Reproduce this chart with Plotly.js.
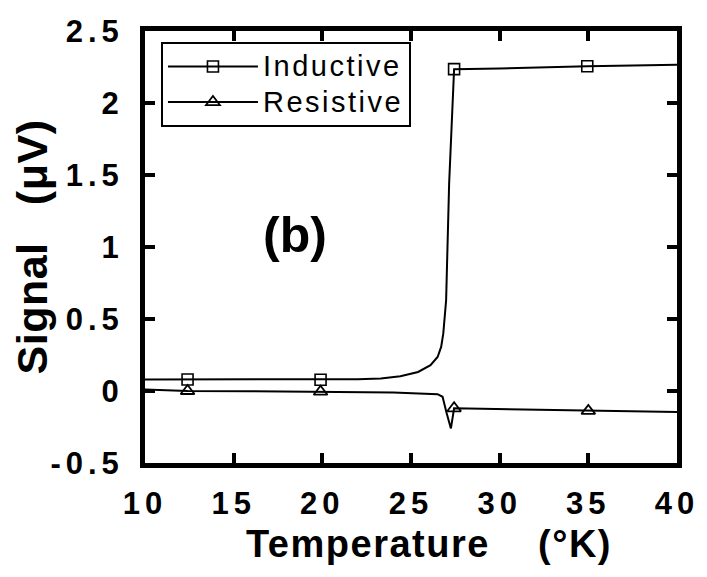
<!DOCTYPE html>
<html>
<head>
<meta charset="utf-8">
<script src="https://cdn.plot.ly/plotly-3.0.1.min.js"></script>
<style>
  html, body { margin: 0; padding: 0; background: #fff; }
  #chart { width: 707px; height: 577px; }
  .xtick text, .ytick text { letter-spacing: 5px; }
  .legendtext { letter-spacing: 2.5px; font-size: 29px !important; }
  .g-xtitle text { letter-spacing: 1.5px; }
  .g-ytitle text { letter-spacing: 0.5px; }
  .g-xtitle { transform: translateX(18px); }
  .g-ytitle { transform: translateX(21px); }
</style>
</head>
<body>
<div id="chart"></div>
<script>
// Inductive signal curve (temperature in K, signal in microvolts)
const indT = [10, 12.4, 16, 19.9, 22, 23.3, 24.4, 25.4, 26.1, 26.5, 26.7, 26.82, 26.91, 26.98, 27.15, 27.43, 30, 32.5, 34.94, 37.5, 40];
const indV = [0.08, 0.08, 0.08, 0.078, 0.082, 0.087, 0.103, 0.132, 0.179, 0.236, 0.306, 0.398, 0.514, 0.629, 1.44, 2.235, 2.24, 2.25, 2.255, 2.26, 2.265];
// Inductive marker points
const indMarkT = [12.4, 19.9, 27.43, 34.94];
const indMarkV = [0.08, 0.078, 2.235, 2.255];

// Resistive signal curve
const resT = [10, 12.4, 16, 19.9, 24, 26.5, 26.78, 27.0, 27.25, 27.43, 30, 32.5, 35, 37.5, 40];
const resV = [0.01, 0.0, -0.002, -0.005, -0.01, -0.022, -0.04, -0.15, -0.26, -0.12, -0.125, -0.13, -0.138, -0.14, -0.145];
// Resistive marker points
const resMarkT = [12.4, 19.9, 27.43, 35];
const resMarkV = [0.0, -0.005, -0.12, -0.138];

// Tick labels
const xTickVals = [10, 15, 20, 25, 30, 35, 40];
const xTickText = ['10', '15', '20', '25', '30', '35', '40'];
const yTickVals = [-0.5, 0, 0.5, 1, 1.5, 2, 2.5];
const yTickText = ['-0.5', '0', '0.5', '1', '1.5', '2', '2.5'];

const seriesNames = ['Inductive', 'Resistive'];
const panelLabel = '(b)';

const lineStyle = {color: '#000', width: 2};
const squareMarker = {color: '#000', size: 11, symbol: 'square-open', line: {color: '#000', width: 1.6}};
const triMarker = {color: '#000', size: 12, symbol: 'triangle-up-open', line: {color: '#000', width: 1.8}};

const traces = [
  {x: indT, y: indV, mode: 'lines', line: lineStyle, showlegend: false, hoverinfo: 'skip'},
  {x: indMarkT, y: indMarkV, mode: 'markers', showlegend: false, marker: squareMarker},
  {x: resT, y: resV, mode: 'lines', line: lineStyle, showlegend: false, hoverinfo: 'skip'},
  {x: resMarkT, y: resMarkV, mode: 'markers', showlegend: false, marker: triMarker},
  // legend entries
  {x: [null], y: [null], mode: 'lines+markers', name: seriesNames[0], line: lineStyle, marker: squareMarker},
  {x: [null], y: [null], mode: 'lines+markers', name: seriesNames[1], line: lineStyle, marker: triMarker}
];

const FAMILY = 'Liberation Sans, Arial, sans-serif';
const tickFont = {family: FAMILY, size: 31, color: '#000', weight: 700};

const layout = {
  width: 707, height: 577,
  margin: {l: 145, r: 30, t: 31, b: 114, pad: 0},
  paper_bgcolor: '#fff', plot_bgcolor: '#fff',
  showlegend: true,
  legend: {
    x: 0.03, y: 0.975, xanchor: 'left', yanchor: 'top',
    bgcolor: '#fff', bordercolor: '#000', borderwidth: 2,
    font: {family: FAMILY, size: 25, color: '#000'},
    itemwidth: 90, tracegroupgap: 0
  },
  xaxis: {
    range: [10, 40], tickmode: 'array', tickvals: xTickVals, ticktext: xTickText,
    showgrid: false, zeroline: false,
    showline: true, linecolor: '#000', linewidth: 5, mirror: 'ticks',
    ticks: 'inside', ticklen: 10, tickwidth: 4, tickcolor: '#000',
    tickfont: tickFont, ticklabelstandoff: 9,
    title: {text: 'Temperature\u00a0\u00a0\u00a0\u00a0(°K)', font: {family: FAMILY, size: 38, color: '#000', weight: 700}, standoff: 12}
  },
  yaxis: {
    range: [-0.5, 2.5], tickmode: 'array', tickvals: yTickVals, ticktext: yTickText,
    showgrid: false, zeroline: false,
    showline: true, linecolor: '#000', linewidth: 5, mirror: 'ticks',
    ticks: 'inside', ticklen: 10, tickwidth: 4, tickcolor: '#000',
    tickfont: tickFont, ticklabelstandoff: 10,
    title: {text: 'Signal\u00a0\u00a0\u00a0(μV)', font: {family: FAMILY, size: 43, color: '#000', weight: 700}, standoff: 12}
  },
  annotations: [{
    x: 18.44, y: 1.086, xref: 'x', yref: 'y', text: panelLabel, showarrow: false,
    font: {family: FAMILY, size: 50, color: '#000', weight: 700}
  }]
};

Plotly.newPlot('chart', traces, layout, {staticPlot: true, displayModeBar: false});
</script>
</body>
</html>
